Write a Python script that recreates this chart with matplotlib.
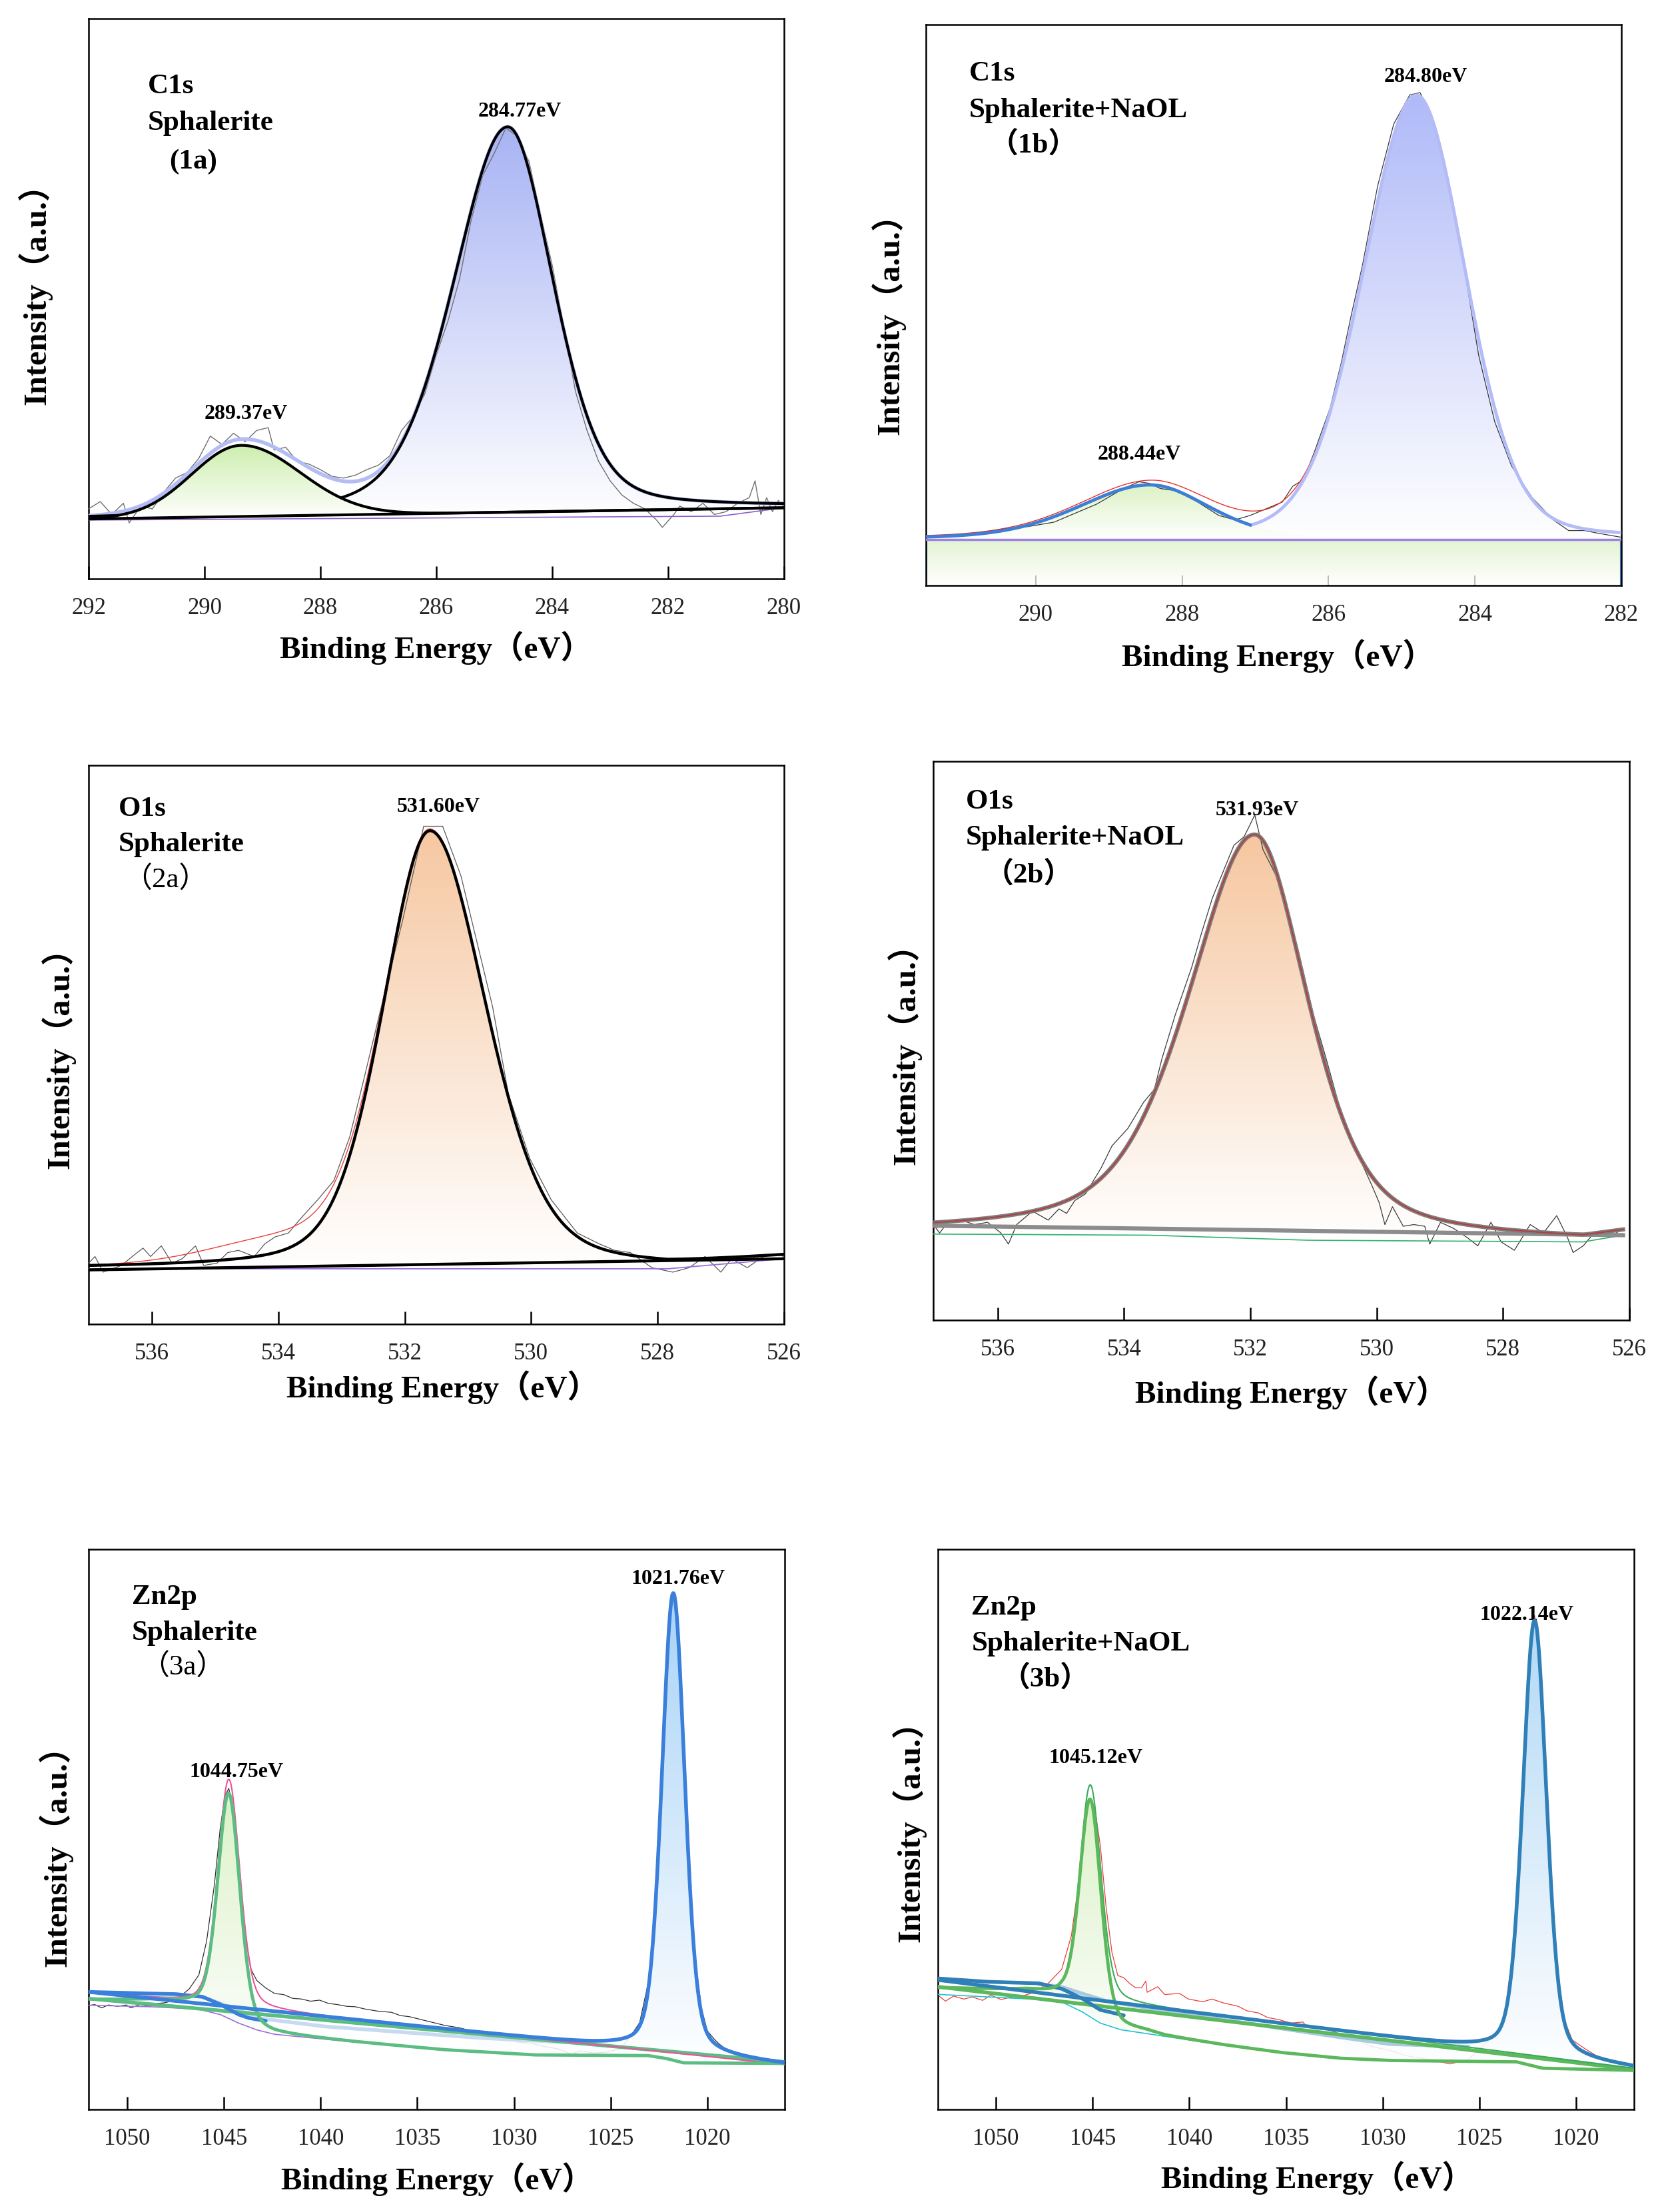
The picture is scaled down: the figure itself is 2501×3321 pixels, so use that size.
import numpy as np
import matplotlib
matplotlib.use('Agg')
import matplotlib.pyplot as plt
import matplotlib.colors as mcolors

plt.rcParams['font.family'] = ['Liberation Serif', 'Noto Sans CJK SC']

# ---------------- data (intensity in % of plot height) ----------------
# C1s, sphalerite
C1S_A_BE = [292.0, 291.8, 291.6, 291.4, 291.3, 291.1, 290.9, 290.7, 290.5, 290.3,
            290.1, 289.9, 289.7, 289.5, 289.3, 289.1, 288.9, 288.8, 288.6, 288.4,
            288.2, 288.0, 287.8, 287.6, 287.4, 287.2, 287.0, 286.8, 286.6, 286.4,
            286.2, 286.0, 285.8, 285.6, 285.4, 285.2, 285.0, 284.8, 284.6, 284.4,
            284.2, 284.0, 283.8, 283.6, 283.4, 283.2, 283.0, 282.8, 282.6, 282.4,
            282.2, 282.1, 281.9, 281.8, 281.6, 281.4, 281.2, 281.0, 280.8, 280.6,
            280.5, 280.4, 280.3, 280.2, 280.1, 280.0]
C1S_A_RAW = [12.5, 13.8, 11.5, 13.5, 10.0, 13.0, 12.5, 15.5, 18.0, 19.0,
             21.5, 25.5, 24.0, 26.0, 24.5, 26.5, 27.0, 23.0, 23.5, 21.0,
             20.5, 19.5, 18.3, 18.0, 18.5, 19.5, 20.3, 22.0, 26.5, 29.0,
             33.0, 40.0, 46.0, 53.5, 64.0, 72.0, 76.0, 80.5, 79.0, 74.5,
             65.0, 56.0, 45.0, 33.5, 26.5, 21.0, 17.5, 15.0, 13.5, 12.5,
             10.5, 9.2, 11.5, 13.0, 12.0, 13.5, 11.5, 12.0, 13.5, 14.5,
             17.5, 11.5, 14.5, 12.0, 14.0, 12.8]
C1S_A_LIN_BE = [292.0, 280.0]
C1S_A_LIN_Y = [10.7, 12.7]
C1S_A_SHIRLEY_BE = [292.0, 281.1, 280.0]
C1S_A_SHIRLEY_Y = [10.5, 11.2, 12.7]
# peaks: centre, height, fwhm (high-BE side), fwhm (low-BE side), lorentz fraction
C1S_A_MAIN = [284.77, 68.8, 2.2, 1.85, 0.3]
C1S_A_SMALL = [289.37, 12.7, 2.0, 2.4, 0.0]

# C1s, sphalerite + NaOL
C1S_B_BE = [291.51, 291.12, 290.76, 290.40, 290.11, 289.75, 289.46, 289.17, 288.80, 288.59,
            288.44, 288.30, 288.08, 287.79, 287.50, 287.28, 287.07, 286.85, 286.63, 286.49,
            286.34, 286.20, 285.98, 285.83, 285.69, 285.54, 285.33, 285.11, 284.89, 284.75,
            284.60, 284.46, 284.24, 284.09, 283.95, 283.73, 283.50, 283.22, 282.93, 282.72,
            282.50, 282.35, 282.0]
C1S_B_RAW = [8.7, 9.0, 9.4, 10.2, 10.5, 11.3, 12.9, 14.5, 17.3, 18.5,
             18.2, 17.3, 16.9, 14.9, 12.5, 11.7, 12.5, 13.7, 14.9, 17.7,
             18.9, 23.6, 31.6, 39.5, 48.2, 56.9, 71.2, 82.3, 87.5, 87.9,
             83.9, 77.6, 63.3, 52.2, 41.1, 29.2, 21.3, 15.7, 11.7, 9.8,
             9.8, 9.4, 8.6]
C1S_B_BASE_BE = [291.5, 282.0]
C1S_B_BASE_Y = [8.25, 8.25]
C1S_B_MAIN = [284.80, 79.2, 1.72, 1.58, 0.2]
C1S_B_SMALL = [288.44, 9.7, 2.3, 1.9, 0.3]

# O1s, sphalerite
O1S_A_BE = [537.0, 536.90, 536.77, 536.48, 536.31, 536.14, 536.02, 535.85, 535.68, 535.52,
            535.31, 535.18, 534.97, 534.80, 534.63, 534.38, 534.21, 534.05, 533.84, 533.63,
            533.38, 533.12, 532.87, 532.66, 532.37, 532.03, 531.70, 531.40, 531.11, 530.86,
            530.61, 530.36, 530.02, 529.68, 529.27, 528.93, 528.68, 528.43, 528.09, 527.76,
            527.50, 527.25, 527.0, 526.83, 526.58, 526.33, 526.12, 526.0]
O1S_A_RAW = [10.9, 12.1, 9.3, 10.5, 12.1, 13.6, 12.1, 14.0, 10.9, 11.7,
             14.0, 10.5, 10.9, 12.8, 13.2, 12.1, 14.4, 15.6, 16.3, 19.1,
             22.2, 25.7, 33.5, 43.2, 56.8, 72.4, 89.1, 89.1, 80.2, 68.5,
             56.8, 41.2, 29.6, 22.2, 16.3, 14.4, 13.2, 12.8, 10.1, 9.3,
             10.1, 12.1, 9.3, 11.7, 10.1, 12.1, 12.5, 12.1]
O1S_A_LIN_BE = [537.0, 526.0]
O1S_A_LIN_Y = [9.7, 11.7]
O1S_A_SHIRLEY_BE = [537.0, 527.84, 526.0]
O1S_A_SHIRLEY_Y = [9.9, 9.9, 11.7]
O1S_A_MAIN = [531.60, 78.4, 1.75, 2.1, 0.3]
O1S_A_SMALL = [534.0, 3.5, 2.6, 2.6, 0.0]

# O1s, sphalerite + NaOL
O1S_B_BE = [537.02, 536.92, 536.79, 536.58, 536.37, 536.16, 535.95, 535.83, 535.70, 535.45,
            535.20, 535.03, 534.91, 534.78, 534.61, 534.36, 534.19, 533.94, 533.69, 533.52,
            533.40, 533.19, 532.93, 532.77, 532.60, 532.43, 532.26, 532.10, 531.93, 531.80,
            531.59, 531.42, 531.26, 531.00, 530.80, 530.59, 530.33, 530.08, 529.96, 529.87,
            529.75, 529.58, 529.41, 529.24, 529.16, 528.99, 528.78, 528.57, 528.40, 528.19,
            528.03, 527.82, 527.57, 527.36, 527.15, 526.98, 526.89, 526.73, 526.56, 526.31,
            526.10]
O1S_B_RAW = [17.1, 15.6, 17.5, 17.9, 17.1, 17.5, 15.6, 13.6, 17.1, 19.5,
             17.9, 19.9, 19.1, 21.4, 22.6, 27.3, 31.2, 34.3, 39.0, 41.3,
             46.8, 54.6, 63.1, 69.4, 75.6, 80.3, 85.0, 86.5, 90.4, 84.2,
             79.5, 73.3, 67.0, 54.6, 46.8, 38.2, 30.4, 24.2, 21.0, 17.1,
             20.3, 16.8, 17.1, 16.8, 13.6, 17.5, 16.4, 14.8, 13.3, 17.5,
             14.0, 12.5, 17.1, 15.6, 18.7, 14.8, 12.1, 13.3, 15.6, 14.8,
             16.4]
O1S_B_LIN_BE = [537.02, 526.1]
O1S_B_LIN_Y = [16.9, 15.2]
O1S_B_SHIRLEY_BE = [537.02, 533.61, 531.09, 526.73, 526.10]
O1S_B_SHIRLEY_Y = [15.4, 15.2, 14.3, 14.0, 15.2]
O1S_B_MAIN = [531.93, 72.3, 2.5, 2.0, 0.5]

# Zn2p, sphalerite
ZN_A_BE = [1052.02, 1051.68, 1051.33, 1050.98, 1050.51, 1050.05, 1049.82, 1049.35, 1048.89, 1048.42,
           1048.07, 1047.49, 1046.8, 1046.3, 1045.9, 1045.5, 1045.2, 1044.95, 1044.75, 1044.5,
           1044.2, 1043.9, 1043.6, 1043.3, 1042.84, 1042.38, 1041.91, 1041.45, 1040.99, 1040.52,
           1040.06, 1039.59, 1039.13, 1038.66, 1038.20, 1037.73, 1037.03, 1036.34, 1035.87, 1035.41,
           1034.94, 1034.25, 1033.55, 1032.85, 1032.39, 1031.69, 1031.23, 1030.53, 1029.83, 1029.13,
           1028.44, 1027.74, 1027.04, 1026.58, 1025.88, 1025.18, 1024.49, 1024.02, 1023.5, 1023.0,
           1022.6, 1022.2, 1021.8, 1021.5, 1021.2, 1020.9, 1020.6, 1020.3, 1020.0, 1019.61,
           1019.37, 1018.91, 1018.44, 1017.98, 1017.28, 1016.0]
ZN_A_RAW = [18.52, 18.71, 18.12, 18.64, 18.40, 18.64, 18.12, 18.71, 18.40, 18.91,
            19.03, 19.50, 21.5, 24.0, 30.0, 40.0, 50.0, 56.0, 57.3, 53.0,
            42.0, 31.0, 25.0, 23.0, 21.67, 20.68, 20.49, 19.82, 19.70, 19.31,
            19.50, 18.91, 18.71, 18.40, 18.32, 17.93, 17.53, 17.33, 16.74, 16.55,
            16.15, 15.56, 14.97, 14.58, 14.18, 13.79, 13.39, 12.80, 12.02, 11.82,
            11.23, 10.83, 9.85, 10.44, 10.05, 10.24, 10.83, 12.80, 15.5, 23.5,
            41.0, 71.0, 92.0, 85.0, 63.0, 41.0, 26.0, 18.0, 14.0, 12.41,
            11.62, 10.44, 9.65, 9.26, 8.86, 8.47]
ZN_A_BLUE_LIN_BE = [1052.02, 1016.0]
ZN_A_BLUE_LIN_Y = [20.96, 8.0]
ZN_A_GREEN_LIN_BE = [1052.02, 1016.0]
ZN_A_GREEN_LIN_Y = [19.78, 8.47]
ZN_A_SHIRLEY_BE = [1052.02, 1048.65, 1046.33, 1045.17, 1044.24, 1043.31, 1042.38,
                   1038.20, 1033.55, 1028.90, 1023.09, 1022.16, 1021.23, 1016.0]
ZN_A_SHIRLEY_Y = [18.6, 18.3, 17.9, 16.9, 15.4, 14.2, 13.4,
                  12.0, 10.6, 9.7, 9.6, 9.1, 8.3, 8.2]
ZN_A_GBG_BE = [1052.02, 1048.31, 1046.6, 1045.5, 1044.5, 1043.3, 1042.38,
               1038.20, 1033.55, 1028.90, 1023.09, 1022.16, 1021.23, 1016.0]
ZN_A_GBG_Y = [19.6, 19.4, 18.7, 17.2, 15.4, 14.0, 13.4,
              12.0, 10.6, 9.7, 9.6, 9.1, 8.3, 8.2]
ZN_A_STEP_BE = [1052.02, 1047.49, 1046.10, 1045.17, 1044.24, 1043.70, 1042.84]
ZN_A_STEP_Y = [20.96, 20.57, 20.09, 18.71, 16.94, 16.3, 15.8]
ZN_A_PALE_BE = [1047.49, 1046.32, 1045.01, 1043.06, 1039.78, 1035.85, 1031.93, 1028.0, 1025.79]
ZN_A_PALE_Y = [20.5, 20.3, 18.7, 16.2, 14.8, 13.8, 12.8, 12.1, 11.8]
ZN_A_MAIN = [1021.76, 82.1, 1.4, 1.4, 0.3]
ZN_A_SECOND = [1044.75, 40.6, 1.35, 1.35, 0.3]

# Zn2p, sphalerite + NaOL
ZN_B_BE = [1053.02, 1052.61, 1052.20, 1051.65, 1051.24, 1050.69, 1050.27, 1049.73, 1049.18, 1048.63,
           1048.08, 1047.3, 1046.6, 1046.1, 1045.7, 1045.4, 1045.15, 1044.9, 1044.6, 1044.3,
           1044.0, 1043.70, 1043.39, 1043.09, 1042.78, 1042.48, 1042.25, 1042.18, 1041.64, 1041.27,
           1040.51, 1040.05, 1039.29, 1038.84, 1038.23, 1037.47, 1037.02, 1036.41, 1035.95, 1035.35,
           1034.74, 1034.13, 1033.98, 1032.92, 1032.16, 1031.40, 1030.64, 1029.61, 1028.86, 1028.31,
           1027.49, 1026.53, 1025.57, 1024.74, 1024.2, 1023.7, 1023.2, 1022.8, 1022.4, 1022.14,
           1021.8, 1021.4, 1021.0, 1020.6, 1020.2, 1019.53, 1018.98, 1018.43, 1017.88, 1017.33,
           1017.0]
ZN_B_RAW = [20.46, 19.31, 20.23, 19.69, 20.08, 19.46, 20.39, 19.61, 20.08, 20.23,
            20.85, 22.5, 25.0, 31.0, 41.0, 50.0, 55.5, 54.0, 47.0, 36.0,
            28.0, 23.9, 23.5, 22.5, 21.7, 21.7, 22.9, 20.9, 21.9, 20.5,
            20.7, 19.7, 19.2, 19.7, 19.0, 18.4, 17.6, 17.2, 16.4, 16.0,
            15.4, 15.6, 15.0, 14.4, 13.4, 12.5, 11.3, 10.5, 9.65, 9.27,
            8.88, 8.11, 8.88, 11.58, 13.0, 16.5, 30.0, 53.5, 80.5, 88.2,
            76.0, 47.5, 26.0, 16.0, 12.4, 10.81, 9.65, 8.88, 8.11, 7.72,
            7.34]
ZN_B_BLUE_LIN_BE = [1053.02, 1017.0]
ZN_B_BLUE_LIN_Y = [23.1, 7.35]
ZN_B_GREEN_LIN_BE = [1053.02, 1017.0]
ZN_B_GREEN_LIN_Y = [21.9, 7.1]
ZN_B_SHIRLEY_BE = [1053.02, 1047.34, 1046.58, 1045.52, 1044.61, 1043.54, 1041.27,
                   1038.23, 1035.19, 1032.16, 1029.61, 1023.10, 1021.73, 1017.0]
ZN_B_SHIRLEY_Y = [20.53, 19.54, 19.15, 17.38, 15.41, 14.22, 13.04,
                  11.47, 10.09, 9.1, 8.71, 8.49, 7.34, 6.95]
ZN_B_GBG_BE = [1053.02, 1048.4, 1046.6, 1045.5, 1044.6, 1043.5, 1042.2, 1041.27,
               1038.23, 1035.19, 1032.16, 1029.61, 1023.10, 1021.73, 1017.0]
ZN_B_GBG_Y = [21.7, 21.2, 20.3, 18.0, 15.8, 14.4, 13.8, 13.04,
              11.47, 10.09, 9.1, 8.71, 8.49, 7.34, 6.95]
ZN_B_STEP_BE = [1053.02, 1050.37, 1047.79, 1046.58, 1045.52, 1044.61, 1043.39]
ZN_B_STEP_Y = [23.37, 22.77, 22.50, 21.51, 19.74, 17.77, 16.79]
ZN_B_PALE_BE = [1047.79, 1046.58, 1045.52, 1044.30, 1041.27, 1038.23, 1035.19,
                1032.16, 1029.61, 1025.57]
ZN_B_PALE_Y = [22.38, 21.83, 20.65, 19.35, 17.57, 16.0, 14.42, 12.85, 11.66, 11.2]
ZN_B_MAIN = [1022.14, 77.7, 1.45, 1.45, 0.3]
ZN_B_SECOND = [1045.12, 38.3, 1.3, 1.3, 0.3]

C1S_A_TICKS = [292, 290, 288, 286, 284, 282, 280]
C1S_B_TICKS = [290, 288, 286, 284, 282]
O1S_TICKS = [536, 534, 532, 530, 528, 526]
ZN_TICKS = [1050, 1045, 1040, 1035, 1030, 1025, 1020]

XLABEL = 'Binding Energy（eV）'
YLABEL = 'Intensity（a.u.）'


def peak(x, params):
    center, height, w_high, w_low, eta = params
    w = np.where(x >= center, w_high, w_low)
    u = (x - center) / w
    g = np.exp(-4 * np.log(2) * u ** 2)
    l = 1.0 / (1.0 + 4 * u ** 2)
    return height * ((1 - eta) * g + eta * l)


def on_grid(grid, be, y):
    return np.interp(grid, np.asarray(be)[::-1], np.asarray(y)[::-1])


def gradient_fill(ax, x, top, bottom, color, zorder, alpha=1.0):
    x = np.asarray(x)
    poly = ax.fill_between(x, bottom, top, facecolor='none', edgecolor='none')
    clip = poly.get_paths()[0]
    lo, hi = np.min(bottom), np.max(top)
    t = np.linspace(0, 1, 256)[:, None]
    rgb = np.array(mcolors.to_rgb(color))
    img = np.zeros((256, 1, 4))
    img[:, 0, :3] = (1 - t) + t * rgb
    img[:, 0, 3] = alpha
    im = ax.imshow(img, extent=(x.min(), x.max(), lo, hi), origin='lower',
                   aspect='auto', zorder=zorder, interpolation='bilinear')
    im.set_clip_path(clip, transform=ax.transData)


def make_axes(fig, rect, ticks, tick_color='black', tick_len=13.5, tick_w=1.8):
    ax = fig.add_axes(rect)
    ax.set_yticks([])
    ax.set_xticks(ticks)
    ax.set_xticklabels([str(t) for t in ticks])
    ax.tick_params(axis='x', direction='in', length=tick_len, width=tick_w,
                   color=tick_color, labelsize=25, pad=20, labelcolor='#222222')
    for s in ax.spines.values():
        s.set_linewidth(1.8)
        s.set_color('black')
    return ax


def finish(ax, xlim, xlab_pos, ylab_pos, titles, peaks):
    ax.set_xlim(*xlim)
    ax.set_ylim(0, 100)
    ax.set_xlabel(XLABEL, fontsize=34, fontweight='bold')
    ax.xaxis.set_label_coords(xlab_pos[0], xlab_pos[1] - 0.007)
    ax.set_ylabel(YLABEL, fontsize=35, fontweight='bold')
    ax.yaxis.set_label_coords(*ylab_pos)
    for txt, x, y, w in titles:
        ax.text(x, y, txt, transform=ax.transAxes, fontsize=31, fontweight=w,
                ha='left', va='baseline')
    for txt, x, y in peaks:
        ax.text(x, y, txt, transform=ax.transAxes, fontsize=23, fontweight='bold',
                ha='center', va='baseline')


def draw_c1s_a(fig):
    ax = make_axes(fig, [0.0532, 0.7383, 0.4174, 0.2532], C1S_A_TICKS)
    g = np.linspace(292, 280, 900)
    base = on_grid(g, C1S_A_LIN_BE, C1S_A_LIN_Y)
    main = peak(g, C1S_A_MAIN)
    small = peak(g, C1S_A_SMALL)
    gradient_fill(ax, g, base + main, base, '#a8b3f4', 1)
    gradient_fill(ax, g, base + small, base, '#cdeeae', 1.5)
    ax.plot(C1S_A_BE, C1S_A_RAW, color='#707070', lw=1.0, zorder=3)
    ax.plot(g, base + main + small, color='#b3bcf5', lw=4, zorder=3.5)
    ax.plot(C1S_A_SHIRLEY_BE, C1S_A_SHIRLEY_Y, color='#8c5fc9', lw=1.2, zorder=4)
    ax.plot(g, np.where(main >= small, base + main, np.nan), color='black', lw=3, zorder=5)
    ax.plot(g, base + small, color='black', lw=3, zorder=5)
    ax.plot(C1S_A_LIN_BE, C1S_A_LIN_Y, color='black', lw=3, zorder=5)
    finish(ax, (292, 280), (0.499, -0.0856), (-0.052, 0.522),
           [('C1s', 0.085, 0.867, 'bold'), ('Sphalerite', 0.085, 0.802, 'bold'),
            ('(1a)', 0.116, 0.733, 'bold')],
           [('284.77eV', 0.620, 0.826), ('289.37eV', 0.226, 0.285)])


def draw_c1s_b(fig):
    ax = make_axes(fig, [0.5558, 0.7353, 0.4174, 0.2535], C1S_B_TICKS,
                   tick_color='#bdbdbd', tick_len=11, tick_w=1.5)
    xlim = (291.5, 282.0)
    g = np.linspace(xlim[0], xlim[1], 900)
    base = on_grid(g, C1S_B_BASE_BE, C1S_B_BASE_Y)
    main = peak(g, C1S_B_MAIN)
    small = peak(g, C1S_B_SMALL)
    gradient_fill(ax, g, base, np.zeros_like(g), '#e3f3d2', 1)
    ax.vlines(list(xlim), 0, C1S_B_BASE_Y, color='#4a86d8', lw=3, zorder=2)
    gradient_fill(ax, g, base + main, base, '#b0baf8', 1)
    gradient_fill(ax, g, base + small, base, '#ddf2c6', 1.5)
    ax.plot(C1S_B_BE, C1S_B_RAW, color='#3a3a3a', lw=0.9, zorder=3)
    ax.plot(g, base + main + small, color='#e8302a', lw=1.0, zorder=3.5)
    ax.plot(C1S_B_BASE_BE, C1S_B_BASE_Y, color='#9d82e6', lw=2.5, zorder=4)
    ax.plot(g, np.where(main >= small, base + main, np.nan), color='#b3bcf7', lw=3.5, zorder=5)
    ax.plot(g, np.where(small > main, base + small, np.nan), color='#3c7fd6', lw=3.5, zorder=5)
    finish(ax, xlim, (0.506, -0.088), (-0.029, 0.48),
           [('C1s', 0.062, 0.900, 'bold'), ('Sphalerite+NaOL', 0.062, 0.835, 'bold'),
            ('（1b）', 0.091, 0.772, 'bold')],
           [('284.80eV', 0.719, 0.898), ('288.44eV', 0.307, 0.224)])


def draw_o1s_a(fig):
    ax = make_axes(fig, [0.0532, 0.4014, 0.4174, 0.2526], O1S_TICKS)
    g = np.linspace(537, 526, 900)
    shir = on_grid(g, O1S_A_SHIRLEY_BE, O1S_A_SHIRLEY_Y)
    main = peak(g, O1S_A_MAIN)
    small = peak(g, O1S_A_SMALL)
    gradient_fill(ax, g, shir + main, shir, '#f6c8a2', 1)
    ax.plot(O1S_A_BE, O1S_A_RAW, color='#5a5a5a', lw=0.9, zorder=3)
    ax.plot(g, shir + main + small, color='#e8403a', lw=1.0, zorder=3.5)
    ax.plot(O1S_A_SHIRLEY_BE, O1S_A_SHIRLEY_Y, color='#9a6ddb', lw=1.3, zorder=4)
    ax.plot(O1S_A_LIN_BE, O1S_A_LIN_Y, color='black', lw=3.2, zorder=5)
    ax.plot(g, shir + main, color='black', lw=3.2, zorder=5)
    finish(ax, (537, 526), (0.509, -0.076), (-0.019, 0.49),
           [('O1s', 0.043, 0.910, 'bold'), ('Sphalerite', 0.043, 0.846, 'bold'),
            ('（2a）', 0.050, 0.781, 'normal')],
           [('531.60eV', 0.503, 0.917)])


def draw_o1s_b(fig):
    ax = make_axes(fig, [0.5602, 0.4032, 0.4178, 0.2526], O1S_TICKS)
    g = np.linspace(537.02, 526.1, 900)
    shir = on_grid(g, O1S_B_SHIRLEY_BE, O1S_B_SHIRLEY_Y)
    main = peak(g, O1S_B_MAIN)
    gradient_fill(ax, g, shir + main, shir, '#f6c7a0', 1)
    ax.plot(O1S_B_BE, O1S_B_RAW, color='#3a3a3a', lw=0.9, zorder=3)
    ax.plot(O1S_B_SHIRLEY_BE, O1S_B_SHIRLEY_Y, color='#2fb36e', lw=1.2, zorder=4)
    ax.plot(O1S_B_LIN_BE, O1S_B_LIN_Y, color='#8c8c8c', lw=4.5, zorder=5)
    ax.plot(g, shir + main, color='#7d7d7d', lw=4.5, zorder=5)
    ax.plot(g, shir + main, color='#b83a3a', lw=1.3, zorder=5.5)
    finish(ax, (537.02, 526.0), (0.514, -0.093), (-0.017, 0.49),
           [('O1s', 0.047, 0.916, 'bold'), ('Sphalerite+NaOL', 0.047, 0.851, 'bold'),
            ('（2b）', 0.074, 0.783, 'bold')],
           [('531.93eV', 0.465, 0.903)])


def draw_zn(fig, rect, xlim, be, raw, blue_lin, green_lin, shirley, gbg, step, pale,
            main_p, second_p, colors, xlab_pos, ylab_pos, titles, peaks):
    ax = make_axes(fig, rect, ZN_TICKS)
    g = np.linspace(xlim[0], xlim[1], 1500)
    blue = on_grid(g, *blue_lin)
    shir = on_grid(g, *shirley)
    gb = on_grid(g, *gbg)
    main = peak(g, main_p)
    second = peak(g, second_p)
    ax.plot(be, raw, color=colors['raw'], lw=0.9, zorder=1)
    near = g <= 1032
    gradient_fill(ax, g[near], (blue + main)[near], shir[near], colors['fill'], 2, alpha=0.88)
    gradient_fill(ax, g, gb + second, gb, '#d8f1c2', 2, alpha=0.9)
    ax.plot(shirley[0], shirley[1], color=colors['shirley'], lw=1.2, zorder=3)
    ax.plot(pale[0], pale[1], color=colors['pale'], lw=4, zorder=3.5, solid_capstyle='round')
    ax.plot(green_lin[0], green_lin[1], color=colors['green'], lw=4, zorder=4)
    ax.plot(step[0], step[1], color=colors['blue'], lw=4, zorder=4.5, solid_capstyle='round')
    ax.plot(g, blue + second, color=colors['env'], lw=1.5, zorder=4.6)
    ax.plot(g, gb + second, color=colors['green'], lw=3.5, zorder=5)
    ax.plot(g, blue + main, color=colors['blue'], lw=4, zorder=5.5)
    finish(ax, xlim, xlab_pos, ylab_pos, titles, peaks)


fig = plt.figure(figsize=(25.01, 33.21), dpi=100)
draw_c1s_a(fig)
draw_c1s_b(fig)
draw_o1s_a(fig)
draw_o1s_b(fig)
draw_zn(fig, [0.0532, 0.0464, 0.4178, 0.2532], (1052.0, 1016.0), ZN_A_BE, ZN_A_RAW,
        (ZN_A_BLUE_LIN_BE, ZN_A_BLUE_LIN_Y), (ZN_A_GREEN_LIN_BE, ZN_A_GREEN_LIN_Y),
        (ZN_A_SHIRLEY_BE, ZN_A_SHIRLEY_Y), (ZN_A_GBG_BE, ZN_A_GBG_Y),
        (ZN_A_STEP_BE, ZN_A_STEP_Y), (ZN_A_PALE_BE, ZN_A_PALE_Y),
        ZN_A_MAIN, ZN_A_SECOND,
        {'raw': '#333333', 'fill': '#9ccdf7', 'shirley': '#a070e0', 'pale': '#c8daf2',
         'green': '#5bbd82', 'blue': '#3a7fdc', 'env': '#f0509e'},
        (0.501, -0.087), (-0.023, 0.466),
        [('Zn2p', 0.062, 0.902, 'bold'), ('Sphalerite', 0.062, 0.838, 'bold'),
         ('（3a）', 0.075, 0.776, 'normal')],
        [('1021.76eV', 0.847, 0.938), ('1044.75eV', 0.212, 0.593)])
draw_zn(fig, [0.5630, 0.0464, 0.4178, 0.2532], (1053.0, 1017.0), ZN_B_BE, ZN_B_RAW,
        (ZN_B_BLUE_LIN_BE, ZN_B_BLUE_LIN_Y), (ZN_B_GREEN_LIN_BE, ZN_B_GREEN_LIN_Y),
        (ZN_B_SHIRLEY_BE, ZN_B_SHIRLEY_Y), (ZN_B_GBG_BE, ZN_B_GBG_Y),
        (ZN_B_STEP_BE, ZN_B_STEP_Y), (ZN_B_PALE_BE, ZN_B_PALE_Y),
        ZN_B_MAIN, ZN_B_SECOND,
        {'raw': '#ee3b3b', 'fill': '#a8d4f6', 'shirley': '#22c3d0', 'pale': '#a8c9e0',
         'green': '#5cb85c', 'blue': '#2f7fb8', 'env': '#3aaa5a'},
        (0.545, -0.0856), (-0.017, 0.51),
        [('Zn2p', 0.048, 0.883, 'bold'), ('Sphalerite+NaOL', 0.048, 0.819, 'bold'),
         ('（3b）', 0.091, 0.755, 'bold')],
        [('1022.14eV', 0.846, 0.874), ('1045.12eV', 0.227, 0.618)])

fig.savefig('out.png', dpi=100, facecolor='white')
